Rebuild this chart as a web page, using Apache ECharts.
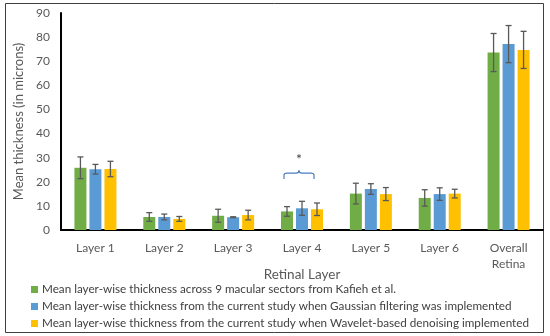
<!DOCTYPE html>
<html><head><meta charset="utf-8">
<script src="https://cdn.jsdelivr.net/npm/echarts@6/dist/echarts.min.js"></script>
<style>html,body{margin:0;padding:0;background:#fff}#c{width:550px;height:336px}</style>
</head><body><div id="c"></div>
<script>
const categories = ['Layer 1','Layer 2','Layer 3','Layer 4','Layer 5','Layer 6','Overall\nRetina'];
const seriesNames = [
  'Mean layer-wise thickness across 9 macular sectors from Kafieh et al.',
  'Mean layer-wise thickness from the current study when Gaussian filtering was implemented',
  'Mean layer-wise thickness from the current study when Wavelet-based denoising implemented'
];
const kafieh = [25.8, 5.4, 5.9, 7.7, 15.1, 13.3, 73.6];
const kafiehErr = [4.5, 1.8, 2.7, 2.0, 4.3, 3.4, 7.9];
const gaussian = [25.2, 5.4, 5.3, 9.0, 17.0, 14.9, 77.1];
const gaussianErr = [2.0, 1.2, 0.2, 2.9, 2.2, 2.6, 7.7];
const wavelet = [25.3, 4.6, 6.2, 8.6, 14.9, 15.1, 74.7];
const waveletErr = [3.2, 1.0, 2.0, 2.6, 2.7, 1.8, 7.7];
const yTicks = [0, 10, 20, 30, 40, 50, 60, 70, 80, 90];
const braceCategory = 3, braceLow = 21.2, braceHigh = 27.6;

const colors = ['#70AD47', '#5B9BD5', '#FFC000'];
const values = [kafieh, gaussian, wavelet];
const errs = [kafiehErr, gaussianErr, waveletErr];
const FONT = 'Lato';
const offsets = [-15, 0, 15];

const chart = echarts.init(document.getElementById('c'));
const series = [];
values.forEach((v, i) => {
  series.push({
    name: seriesNames[i], type: 'bar', data: v, barWidth: 12, barGap: '25%',
    itemStyle: { color: colors[i] }, z: 2
  });
});
values.forEach((v, i) => {
  series.push({
    type: 'custom', z: 5, silent: true,
    data: v.map((val, k) => [k, val, errs[i][k]]),
    renderItem: function (params, api) {
      const k = api.value(0), m = api.value(1), e = api.value(2);
      const top = api.coord([k, m + e]);
      const bot = api.coord([k, m - e]);
      const x = top[0] + offsets[i];
      const st = { stroke: '#595959', lineWidth: 1.3 };
      return { type: 'group', children: [
        { type: 'line', shape: { x1: x, y1: top[1], x2: x, y2: bot[1] }, style: st },
        { type: 'line', shape: { x1: x - 3, y1: top[1], x2: x + 3, y2: top[1] }, style: st },
        { type: 'line', shape: { x1: x - 3, y1: bot[1], x2: x + 3, y2: bot[1] }, style: st }
      ]};
    }
  });
});
series.push({
  type: 'custom', z: 6, silent: true,
  data: [[braceCategory, braceLow, braceHigh]],
  renderItem: function (params, api) {
    const lo = api.coord([api.value(0), api.value(1)]);
    const hi = api.coord([api.value(0), api.value(2)]);
    const cx = lo[0] - 3, w = 15, yb = lo[1], yt = hi[1], ym = (yb + yt) / 2 + 2;
    const path = 'M' + (cx - w) + ' ' + yb + ' L' + (cx - w) + ' ' + (ym + 2) +
      ' Q' + (cx - w) + ' ' + ym + ' ' + (cx - w + 3) + ' ' + ym +
      ' L' + (cx - 3) + ' ' + ym + ' Q' + cx + ' ' + ym + ' ' + cx + ' ' + (ym - 3) +
      ' Q' + cx + ' ' + ym + ' ' + (cx + 3) + ' ' + ym +
      ' L' + (cx + w - 3) + ' ' + ym + ' Q' + (cx + w) + ' ' + ym + ' ' + (cx + w) + ' ' + (ym + 2) +
      ' L' + (cx + w) + ' ' + yb;
    return { type: 'group', children: [
      { type: 'path', shape: { pathData: path }, style: { stroke: '#4A7EC0', lineWidth: 1.2, fill: null } },
      { type: 'text', style: { text: '*', x: cx, y: yt - 4, align: 'center', verticalAlign: 'middle', fontSize: 14, fill: '#404040', fontFamily: FONT } }
    ]};
  }
});

chart.setOption({
  animation: false,
  textStyle: { fontFamily: FONT },
  graphic: [{ type: 'rect', shape: { x: 5.5, y: 3.5, width: 538, height: 329 }, style: { fill: null, stroke: '#404040', lineWidth: 1 }, z: 0 }],
  grid: { left: 61, right: 7, top: 13, bottom: 106 },
  legend: {
    data: seriesNames, orient: 'vertical', left: 31, top: 282, padding: 0,
    itemWidth: 7, itemHeight: 7, itemGap: 2, icon: 'rect',
    textStyle: { fontSize: 11.7, lineHeight: 15, color: '#404040', fontFamily: FONT, padding: [0, 0, 0, -1] }
  },
  xAxis: {
    type: 'category', data: categories,
    axisLine: { lineStyle: { color: '#000', width: 2 } },
    axisTick: { show: false },
    axisLabel: { color: '#595959', fontSize: 12, lineHeight: 16, margin: 10, fontFamily: FONT },
    name: 'Retinal Layer', nameLocation: 'middle', nameGap: 38, nameMoveOverlap: false,
    nameTextStyle: { color: '#595959', fontSize: 13.5, fontFamily: FONT }
  },
  yAxis: {
    type: 'value', min: 0, max: 90, interval: 10,
    axisLine: { show: true, lineStyle: { color: '#000', width: 2 } },
    axisTick: { show: false }, splitLine: { show: false },
    axisLabel: { color: '#595959', fontSize: 12, margin: 11, fontFamily: FONT,
      formatter: v => yTicks.includes(v) ? String(v) : '' },
    name: 'Mean thickness (in microns)', nameLocation: 'middle', nameGap: 36, nameMoveOverlap: false,
    nameTextStyle: { color: '#595959', fontSize: 13, fontFamily: FONT }
  },
  series: series
});
</script></body></html>
